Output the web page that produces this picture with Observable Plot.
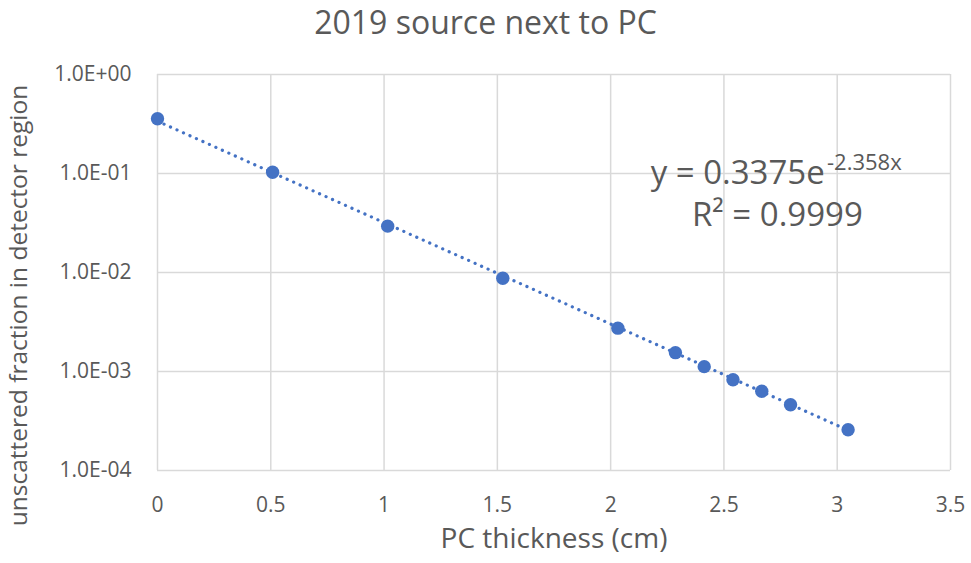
<!DOCTYPE html>
<html>
<head>
<meta charset="utf-8">
<script src="https://cdn.jsdelivr.net/npm/d3@7"></script>
<script src="https://cdn.jsdelivr.net/npm/@observablehq/plot@0.6"></script>
<style>
  html, body { margin: 0; padding: 0; background: #fff; }
  body { width: 971px; height: 563px; overflow: hidden; font-family: "Open Sans", "Noto Sans", sans-serif; }
  #title { height: 44px; text-align: center; font-size: 32px; color: #595959; line-height: 44px; }
  svg { display: block; overflow: visible; }
</style>
</head>
<body>
<div id="title">2019 source next to PC</div>
<div id="chart"></div>
<script>
// Measured data (PC thickness in cm, unscattered fraction)
const thickness = [0, 0.508, 1.016, 1.524, 2.032, 2.286, 2.413, 2.54, 2.667, 2.794, 3.048];
const fraction  = [0.357, 0.103, 0.0294, 0.00875, 0.00274, 0.00155, 0.00112, 0.000824, 0.000632, 0.000461, 0.000258];

// Exponential trendline endpoints (as drawn): y = 0.3375 e^(-2.358x)
const trendX = [0, 3.048];
const trendY = [0.3375, 0.000255];

const xTicks = [0, 0.5, 1, 1.5, 2, 2.5, 3, 3.5];
const xTickLabels = ["0", "0.5", "1", "1.5", "2", "2.5", "3", "3.5"];
const yTicks = [1, 0.1, 0.01, 0.001, 0.0001];
const yTickLabels = ["1.0E+00", "1.0E-01", "1.0E-02", "1.0E-03", "1.0E-04"];

const eqMain = "y = 0.3375e";
const eqExp = "-2.358x";
const eqR2 = "R² = 0.9999";

const points = thickness.map((x, i) => ({x, y: fraction[i]}));
const trend = trendX.map((x, i) => ({x, y: trendY[i]}));

const grey = "#595959";
const blue = "#4472C4";

const chart = Plot.plot({
  width: 971,
  height: 519,
  marginLeft: 157,
  marginRight: 21,
  marginTop: 30,
  marginBottom: 93,
  style: { fontFamily: "'Open Sans', 'Noto Sans', sans-serif", color: grey, background: "#fff", fontSize: "21px" },
  x: { type: "linear", domain: [0, 3.5] },
  y: { type: "log", domain: [0.0001, 1] },
  marks: [
    Plot.gridX(xTicks, { stroke: "#d9d9d9", strokeOpacity: 1, strokeWidth: 1.5 }),
    Plot.gridY(yTicks, { stroke: "#d9d9d9", strokeOpacity: 1, strokeWidth: 1.5 }),
    Plot.axisX(xTicks, { tickSize: 0, tickPadding: 27, fontSize: 21, fill: grey,
      tickFormat: (d) => xTickLabels[xTicks.indexOf(d)],
      label: "PC thickness (cm)", labelAnchor: "center", labelOffset: 77, labelArrow: "none" }),
    Plot.axisY(yTicks, { tickSize: 0, tickPadding: 26, fontSize: 21, fill: grey,
      tickFormat: (d) => yTickLabels[yTicks.indexOf(d)],
      label: "unscattered fraction in detector region", labelAnchor: "center", labelOffset: 148, labelArrow: "none" }),
    Plot.line(trend, { x: "x", y: "y", stroke: blue, strokeWidth: 3.2, strokeDasharray: "0.1 7", strokeLinecap: "round" }),
    Plot.dot(points, { x: "x", y: "y", r: 6.7, fill: blue, stroke: "none" }),
    Plot.text([eqMain], { x: 2.945, y: 0.101, text: d => d, textAnchor: "end", fontSize: 33, fill: grey }),
    Plot.text([eqExp], { x: 2.955, y: 0.101, text: d => d, textAnchor: "start", dy: -10, fontSize: 22, fill: grey }),
    Plot.text([eqR2], { x: 2.736, y: 0.0376, text: d => d, textAnchor: "middle", fontSize: 33, fill: grey })
  ]
});
document.getElementById("chart").appendChild(chart);
const svg = d3.select(chart);
svg.selectAll("g[aria-label='x-axis tick label'], g[aria-label='y-axis tick label']").attr("font-size", 21);
svg.selectAll("g[aria-label='x-axis tick label'] text, g[aria-label='y-axis tick label'] text").attr("font-size", 21);
svg.selectAll("g[aria-label='x-axis label'], g[aria-label='x-axis label'] text").attr("font-size", 28);
// y-axis label: Excel centres it over the whole plot area (slightly lower than the frame centre)
svg.selectAll("g[aria-label='y-axis label'], g[aria-label='y-axis label'] text").attr("font-size", 24.5);
svg.selectAll("g[aria-label='y-axis label'] text").each(function () {
  const t = d3.select(this).attr("transform") || "";
  const m = /translate\(([-\d.]+),\s*([-\d.]+)\)/.exec(t);
  const x = m ? +m[1] : 9;
  d3.select(this).attr("transform", `translate(${x},261) rotate(-90)`);
});
</script>
</body>
</html>
